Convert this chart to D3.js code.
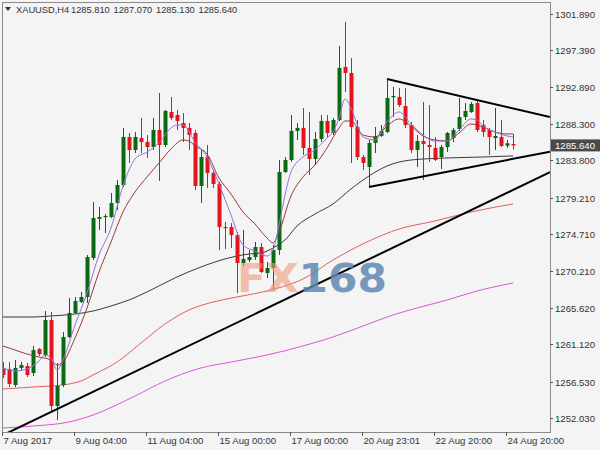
<!DOCTYPE html>
<html><head><meta charset="utf-8">
<script src="https://cdn.jsdelivr.net/npm/d3@7"></script>
<style>html,body{margin:0;padding:0;background:#f4f4f4;} svg{display:block;font-family:"Liberation Sans",Arial,sans-serif;}</style>
</head><body><svg id="c" width="600" height="450"></svg>
<script>
const symbolTitle = "XAUUSD,H4";
const lastOHLC = ["1285.810","1287.070","1285.130","1285.640"];
const opens = [1258.20,1258.07,1256.10,1258.20,1258.44,1257.58,1260.54,1259.80,1264.11,1253.51,1256.10,1262.02,1264.98,1266.33,1266.95,1271.76,1276.57,1276.81,1276.81,1278.54,1280.76,1286.68,1285.07,1286.55,1286.06,1285.44,1287.54,1285.69,1289.76,1289.39,1288.40,1287.79,1287.17,1280.64,1284.21,1282.24,1280.88,1275.58,1275.58,1274.59,1271.14,1271.51,1271.88,1273.11,1269.91,1270.53,1272.74,1282.36,1283.84,1287.42,1287.79,1285.32,1283.97,1286.43,1288.65,1287.17,1288.77,1295.31,1294.57,1287.91,1284.21,1282.98,1285.94,1286.80,1287.29,1291.61,1291.61,1290.50,1288.16,1285.07,1286.18,1285.69,1285.32,1284.21,1285.44,1286.55,1287.66,1289.14,1289.76,1290.87,1288.16,1287.54,1286.55,1286.68,1285.60,1285.81];
const highs = [1258.93,1258.93,1259.18,1258.93,1258.81,1260.91,1260.66,1265.22,1265.10,1258.81,1262.63,1266.83,1266.95,1267.57,1272.13,1278.66,1278.05,1277.18,1279.77,1281.38,1287.79,1287.17,1287.29,1289.02,1286.92,1289.02,1292.10,1290.01,1291.61,1290.01,1289.64,1288.40,1287.54,1285.07,1285.69,1282.61,1281.13,1276.20,1276.07,1274.96,1275.21,1272.74,1273.73,1273.61,1271.27,1273.36,1283.84,1284.21,1289.39,1288.40,1290.25,1289.76,1287.29,1289.39,1289.39,1289.02,1297.90,1300.86,1296.42,1288.77,1284.46,1286.31,1287.91,1288.16,1293.83,1292.84,1292.72,1292.72,1288.53,1286.92,1290.99,1290.62,1286.68,1285.69,1287.29,1287.79,1291.49,1290.87,1290.99,1291.24,1288.77,1287.79,1290.25,1288.77,1286.31,1287.07];
const lows = [1256.96,1255.85,1255.85,1257.95,1257.09,1257.21,1259.67,1259.55,1252.77,1251.78,1255.85,1261.89,1264.85,1266.21,1266.21,1271.51,1275.21,1274.84,1276.69,1277.68,1280.51,1283.47,1284.70,1284.70,1284.09,1285.07,1281.25,1285.44,1288.77,1287.54,1286.06,1285.07,1280.14,1278.54,1280.39,1280.39,1272.74,1272.87,1272.99,1267.44,1270.77,1271.27,1271.51,1269.91,1269.29,1267.81,1272.13,1282.24,1283.60,1286.31,1284.46,1281.99,1283.23,1286.06,1286.68,1286.92,1288.65,1292.23,1283.47,1283.84,1282.61,1280.51,1284.70,1286.68,1287.17,1289.14,1290.38,1287.79,1284.70,1282.98,1281.38,1283.60,1283.72,1282.73,1284.83,1286.06,1287.42,1288.77,1289.64,1287.29,1286.68,1284.46,1285.07,1285.44,1285.32,1285.13];
const closes = [1257.33,1256.22,1258.20,1258.56,1257.33,1260.41,1259.92,1264.11,1253.51,1255.98,1262.02,1264.98,1266.46,1266.95,1271.88,1276.69,1276.81,1276.94,1278.54,1280.76,1286.68,1285.07,1286.68,1286.06,1285.44,1287.54,1285.69,1289.88,1289.02,1288.65,1287.79,1286.92,1280.64,1284.21,1282.24,1280.88,1275.58,1275.46,1274.59,1271.14,1271.64,1271.88,1273.11,1270.03,1270.53,1272.74,1282.36,1283.84,1287.42,1287.79,1285.32,1283.97,1286.43,1288.65,1287.17,1288.77,1295.19,1294.57,1287.91,1284.21,1283.47,1285.94,1286.80,1287.42,1291.49,1291.73,1290.62,1288.16,1285.07,1286.18,1285.81,1285.44,1283.84,1285.44,1287.17,1287.54,1289.14,1289.88,1290.75,1287.54,1287.29,1286.68,1286.80,1285.57,1285.90,1285.64];

const xTickIdx = [0,12,24,36,48,60,72,84];
const xTickLabels = ["7 Aug 2017","9 Aug 04:00","11 Aug 04:00","15 Aug 00:00","17 Aug 00:00","20 Aug 23:01","22 Aug 20:00","24 Aug 20:00"];
const yTicks = [1252.03,1256.53,1261.12,1265.62,1270.21,1274.71,1279.21,1283.80,1288.30,1292.89,1297.39,1301.89];
const lastPrice = 1285.64;

// moving averages: [candle index, price]
const maFast = [[0,1258.20],[2,1257.83],[4,1258.07],[6,1259.06],[7,1259.80],[8,1259.43],[9,1257.95],[10,1259.18],[12,1263.50],[14,1267.44],[16,1272.13],[18,1275.46],[20,1280.64],[22,1283.97],[24,1284.83],[26,1285.94],[28,1287.79],[29,1288.16],[30,1288.16],[32,1286.06],[34,1284.21],[36,1280.88],[38,1277.06],[40,1273.36],[42,1272.62],[44,1272.00],[45,1272.74],[46,1275.83],[47,1279.53],[48,1282.36],[50,1284.21],[52,1285.07],[54,1286.55],[55,1287.29],[56,1289.02],[57,1291.36],[58,1290.25],[59,1288.28],[60,1286.68],[62,1286.31],[64,1288.53],[66,1289.76],[68,1288.28],[70,1286.92],[72,1286.18],[74,1286.18],[76,1287.54],[78,1288.90],[79,1288.77],[80,1288.03],[82,1287.29],[84,1286.80],[85,1286.68]];
const maMid = [[0,1260.91],[2,1260.41],[4,1259.92],[6,1259.55],[8,1259.18],[9,1258.56],[10,1258.93],[12,1261.89],[14,1265.59],[16,1270.03],[18,1273.73],[20,1277.43],[22,1279.90],[24,1281.75],[26,1283.47],[28,1285.20],[30,1286.31],[31,1286.18],[32,1285.57],[34,1284.58],[36,1281.62],[38,1279.65],[40,1277.43],[42,1275.95],[44,1274.22],[45,1273.61],[46,1274.96],[48,1279.40],[50,1281.75],[52,1283.23],[54,1285.32],[56,1287.79],[57,1288.65],[58,1288.65],[60,1286.92],[62,1286.68],[64,1288.03],[66,1288.90],[68,1288.03],[70,1286.80],[72,1286.31],[74,1286.18],[76,1287.17],[78,1288.28],[80,1287.91],[82,1287.29],[84,1287.05],[85,1287.05]];
const ma50 = [[0,1264.48],[5,1264.48],[8,1264.61],[12,1264.85],[15,1265.22],[18,1265.84],[21,1266.58],[25,1267.94],[29,1269.42],[33,1270.65],[37,1271.64],[41,1272.25],[43,1272.37],[45,1272.99],[47,1273.98],[49,1275.70],[52,1277.18],[55,1278.42],[58,1280.27],[61,1281.87],[64,1283.10],[68,1283.84],[74,1284.09],[80,1284.21],[85,1284.34]];
const ma100 = [[0,1255.61],[5,1255.85],[8,1255.98],[11,1256.22],[13,1256.59],[15,1257.33],[19,1258.93],[23,1261.28],[27,1263.62],[31,1265.35],[35,1266.33],[39,1266.95],[44,1267.69],[47,1268.31],[50,1269.17],[55,1271.51],[61,1273.85],[66,1275.33],[72,1276.32],[78,1277.43],[85,1278.42]];
const ma200 = [[0,1250.80],[5,1251.04],[11,1251.54],[15,1252.40],[22,1254.74],[27,1256.59],[33,1258.20],[38,1258.93],[44,1259.80],[50,1260.91],[55,1262.02],[60,1263.37],[65,1264.73],[69,1265.59],[74,1266.58],[79,1267.69],[85,1268.68]];

// trend lines: two anchors [index, price] each
const trendMain = [[8,1252.77],[85,1280.14]];
const triUpper = [[64,1293.83],[79,1291.24]];
const triLower = [[61,1280.51],[85,1283.98]];

const svg = d3.select("#c");
const L=2, R=550, T=2, B=432;
const FS = 9.6;
const x = d3.scaleLinear().domain([0,85]).range([3,513]);
const y = d3.scaleLinear().domain([1252.03,1301.89]).range([418,13.6]);

svg.append("rect").attr("width",600).attr("height",450).attr("fill","#f4f4f4");
svg.append("defs").append("clipPath").attr("id","clip").append("rect")
  .attr("x",L).attr("y",T).attr("width",R-L).attr("height",B-T);
const g = svg.append("g").attr("clip-path","url(#clip)");

const line = d3.line().x(d=>x(d[0])).y(d=>y(d[1])).curve(d3.curveMonotoneX);
function ma(data,color){ g.append("path").datum(data).attr("d",line).attr("fill","none").attr("stroke",color).attr("stroke-width",1); }
ma(ma200,"#dd55dd");
ma(ma100,"#e06060");
ma(ma50,"#3a3a3a");

// candles
const GREEN="#0a6a14", RED="#e5141c";
const candles = opens.map((o,i)=>({i,o,h:highs[i],l:lows[i],c:closes[i]}));
const cg = g.append("g");
cg.selectAll("line").data(candles).join("line")
  .attr("x1",d=>Math.round(x(d.i))+0.5).attr("x2",d=>Math.round(x(d.i))+0.5)
  .attr("y1",d=>y(d.h)).attr("y2",d=>y(d.l))
  .attr("stroke",d=>d.c>=d.o?GREEN:RED).attr("stroke-width",1);
cg.selectAll("rect").data(candles).join("rect")
  .attr("x",d=>Math.round(x(d.i))-1.5).attr("width",4)
  .attr("y",d=>y(Math.max(d.o,d.c))).attr("height",d=>Math.max(1.2,Math.abs(y(d.o)-y(d.c))))
  .attr("fill",d=>d.c>=d.o?GREEN:RED);

ma(maMid,"#9a3b3b");
ma(maFast,"#9a6fd8");

// trend lines
function trend(a,fromStart,color,w){
  const x1=x(a[0][0]), y1=y(a[0][1]), x2=x(a[1][0]), y2=y(a[1][1]);
  const s=(y2-y1)/(x2-x1);
  const xs = fromStart? x1 : L;
  g.append("line").attr("x1",xs).attr("y1",y1+s*(xs-x1)).attr("x2",R).attr("y2",y1+s*(R-x1))
   .attr("stroke",color).attr("stroke-width",w);
}
trend(trendMain,false,"#000",2);
trend(triUpper,true,"#000",2);
trend(triLower,true,"#000",2);

// watermark
const wm = svg.append("text").attr("x",237).attr("y",292)
  .attr("font-family","'DejaVu Sans',Verdana,sans-serif").attr("font-weight","bold").attr("font-size",39)
  .attr("textLength",150).attr("lengthAdjust","spacingAndGlyphs");
wm.append("tspan").text("FX").attr("fill","#f29a78").attr("fill-opacity",0.6);
wm.append("tspan").text("168").attr("fill","#6088b3").attr("fill-opacity",0.85);

// frame
svg.append("rect").attr("x",L+0.5).attr("y",T+0.5).attr("width",R-L).attr("height",B-T)
  .attr("fill","none").attr("stroke","#8a8a8a").attr("stroke-width",1);

// y axis
const ya = svg.append("g");
yTicks.forEach(v=>{
  const yy=Math.round(y(v))+0.5;
  ya.append("line").attr("x1",R).attr("x2",R+3).attr("y1",yy).attr("y2",yy).attr("stroke","#555");
  ya.append("text").attr("x",555).attr("y",yy).attr("dy","0.35em").attr("font-size",FS).attr("fill","#333").text(d3.format(".3f")(v));
});
const py = y(lastPrice);
svg.append("rect").attr("x",551).attr("y",py-6).attr("width",49).attr("height",12).attr("fill","#4a4a4a");
svg.append("text").attr("x",555).attr("y",py).attr("dy","0.35em").attr("font-size",FS).attr("fill","#fff").text(d3.format(".3f")(lastPrice));

// x axis
xTickIdx.forEach((ix,k)=>{
  const xx=Math.round(x(ix))-0.5;
  svg.append("line").attr("x1",xx).attr("x2",xx).attr("y1",B).attr("y2",B+4).attr("stroke","#555");
  svg.append("text").attr("x",xx+1).attr("y",444).attr("font-size",FS).attr("fill","#333").text(xTickLabels[k]);
});

// title
svg.append("path").attr("d","M5,7 L11,7 L8,11 Z").attr("fill","#333");
const titleX = [16,71,113.5,156,198.5];
[symbolTitle].concat(lastOHLC).forEach((t,k)=>{
  svg.append("text").attr("x",titleX[k]).attr("y",13).attr("font-size",9.3).attr("fill","#333").text(t);
});
</script></body></html>
